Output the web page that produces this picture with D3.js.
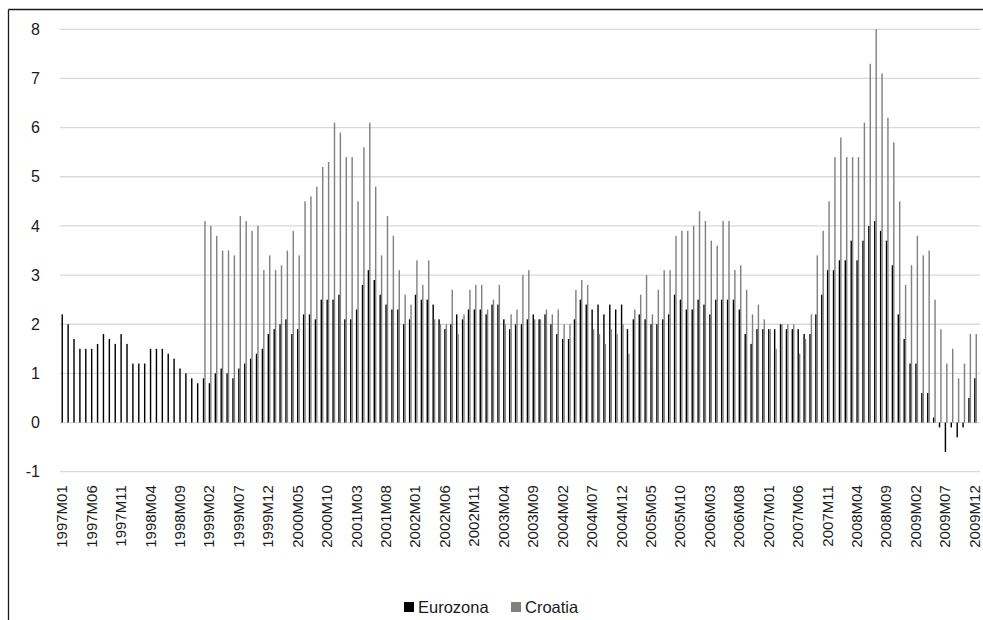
<!DOCTYPE html>
<html><head><meta charset="utf-8">
<script src="https://cdn.jsdelivr.net/npm/d3@7"></script>
<style>body{margin:0;background:#fff}svg{display:block}</style>
</head><body><svg id="c" width="983" height="620"></svg>
<script>
// Categories: monthly 1997M01 .. 2009M12
const years = [1997,1998,1999,2000,2001,2002,2003,2004,2005,2006,2007,2008,2009];
const monthCodes = ["01","02","03","04","05","06","07","08","09","10","11","12"];
const months = years.flatMap(y => monthCodes.map(m => y + "M" + m));

const eurozona = [
  2.2,2.0,1.7,1.5,1.5,1.5,1.6,1.8,1.7,1.6,1.8,1.6,
  1.2,1.2,1.2,1.5,1.5,1.5,1.4,1.3,1.1,1.0,0.9,0.8,
  0.9,0.8,1.0,1.1,1.0,0.9,1.1,1.2,1.3,1.4,1.5,1.8,
  1.9,2.0,2.1,1.8,1.9,2.2,2.2,2.1,2.5,2.5,2.5,2.6,
  2.1,2.1,2.3,2.8,3.1,2.9,2.6,2.4,2.3,2.3,2.0,2.1,
  2.6,2.5,2.5,2.4,2.1,1.9,2.0,2.2,2.1,2.3,2.3,2.3,
  2.2,2.4,2.4,2.1,1.9,2.0,2.0,2.1,2.2,2.1,2.2,2.0,
  1.8,1.7,1.7,2.1,2.5,2.4,2.3,2.4,2.2,2.4,2.3,2.4,
  1.9,2.1,2.2,2.1,2.0,2.0,2.1,2.2,2.6,2.5,2.3,2.3,
  2.5,2.4,2.2,2.5,2.5,2.5,2.5,2.3,1.8,1.6,1.9,1.9,
  1.9,1.9,2.0,1.9,1.9,1.9,1.8,1.8,2.2,2.6,3.1,3.1,
  3.3,3.3,3.7,3.3,3.7,4.0,4.1,3.9,3.7,3.2,2.2,1.7,
  1.2,1.2,0.6,0.6,0.1,-0.1,-0.6,-0.1,-0.3,-0.1,0.5,0.9
];
const croatia = [
  null,null,null,null,null,null,null,null,null,null,null,null,
  null,null,null,null,null,null,null,null,null,null,null,null,
  4.1,4.0,3.8,3.5,3.5,3.4,4.2,4.1,3.9,4.0,3.1,3.4,
  3.1,3.2,3.5,3.9,3.4,4.5,4.6,4.8,5.2,5.3,6.1,5.9,
  5.4,5.4,4.5,5.6,6.1,4.8,3.4,4.2,3.8,3.1,2.6,2.4,
  3.3,2.8,3.3,2.1,2.0,2.0,2.7,1.8,2.2,2.7,2.8,2.8,
  2.3,2.5,2.8,2.0,2.2,2.3,3.0,3.1,2.1,2.1,2.3,2.2,
  2.3,2.0,2.0,2.7,2.9,2.8,1.9,1.8,1.6,1.9,1.8,2.0,
  1.4,2.3,2.6,3.0,2.2,2.7,3.1,3.1,3.8,3.9,3.9,4.0,
  4.3,4.1,3.7,3.6,4.1,4.1,3.1,3.2,2.7,2.2,2.4,2.1,
  1.9,1.5,2.0,2.0,2.0,1.4,1.7,2.2,3.4,3.9,4.5,5.4,
  5.8,5.4,5.4,5.4,6.1,7.3,8.0,7.1,6.2,5.7,4.5,2.8,
  3.2,3.8,3.4,3.5,2.5,1.9,1.2,1.5,0.9,1.2,1.8,1.8
];
const seriesNames = ["Eurozona", "Croatia"];
const seriesColors = ["#000000", "#808080"];
const yTicks = [-1,0,1,2,3,4,5,6,7,8];
const xTickLabels = months.filter((d, i) => i % 5 === 0);

const svg = d3.select("#c");
const plotL = 60, plotR = 978.5, yTop = 29.3, yBot = 471.7;
const font = "Liberation Sans, Arial, sans-serif";

// outer frame (top and left edges visible)
svg.append("line").attr("x1", 8.5).attr("x2", 983).attr("y1", 9.5).attr("y2", 9.5)
  .attr("stroke", "#1a1a1a").attr("stroke-width", 1.3);
svg.append("line").attr("x1", 8.5).attr("x2", 8.5).attr("y1", 9.5).attr("y2", 620)
  .attr("stroke", "#1a1a1a").attr("stroke-width", 1.3);

const x = d3.scaleBand().domain(months).range([plotL, plotR]).paddingInner(0.52).paddingOuter(0.26);
const xs = d3.scaleBand().domain(seriesNames).range([0, x.bandwidth()]);
const y = d3.scaleLinear().domain([-1, 8]).range([yBot, yTop]);

// gridlines
svg.append("g").selectAll("line").data(yTicks).join("line")
  .attr("x1", plotL).attr("x2", 980)
  .attr("y1", d => y(d)).attr("y2", d => y(d))
  .attr("stroke", "#d9d9d9").attr("stroke-width", 1.3);

// y axis labels
const yAxis = d3.axisLeft(y).tickValues(yTicks).tickFormat(d => String(d)).tickSize(0).tickPadding(0);
const gy = svg.append("g").attr("transform", "translate(40,0)").call(yAxis);
gy.select(".domain").remove();
gy.selectAll("text").attr("font-family", font)
  .attr("font-size", 16).attr("fill", "#1a1a1a");

// bars
const data = months.map((m, i) => ({m, vals: [eurozona[i], croatia[i]]}));
const groups = svg.append("g").selectAll("g").data(data).join("g")
  .attr("transform", d => `translate(${x(d.m)},0)`);
groups.selectAll("rect")
  .data(d => d.vals.map((v, k) => ({v, k})).filter(e => e.v !== null))
  .join("rect")
  .attr("x", e => xs(seriesNames[e.k]))
  .attr("width", xs.bandwidth())
  .attr("y", e => Math.min(y(e.v), y(0)))
  .attr("height", e => Math.abs(y(e.v) - y(0)))
  .attr("fill", e => seriesColors[e.k]);

// x axis labels (rotated, reading bottom-to-top)
const xAxis = d3.axisBottom(x).tickValues(xTickLabels).tickSize(0).tickPadding(0);
const gx = svg.append("g").attr("transform", `translate(0,${yBot})`).call(xAxis);
gx.select(".domain").remove();
gx.selectAll("text")
  .attr("font-family", font)
  .attr("font-size", 15).attr("fill", "#1a1a1a")
  .attr("text-anchor", "end")
  .attr("dy", "0.35em").attr("y", 0).attr("x", 0)
  .attr("transform", "translate(-1,13.5) rotate(-90)");

// legend
const legend = svg.append("g").attr("transform", "translate(0,607)");
const legX = [404, 511];
seriesNames.forEach((s, k) => {
  legend.append("rect").attr("x", legX[k]).attr("y", -5).attr("width", 10).attr("height", 10)
    .attr("fill", seriesColors[k]);
  legend.append("text").attr("x", legX[k] + 14).attr("y", 0).attr("dy", "0.35em")
    .attr("font-family", font).attr("font-size", 16.5)
    .attr("fill", "#1a1a1a").text(s);
});
</script>
</body></html>
